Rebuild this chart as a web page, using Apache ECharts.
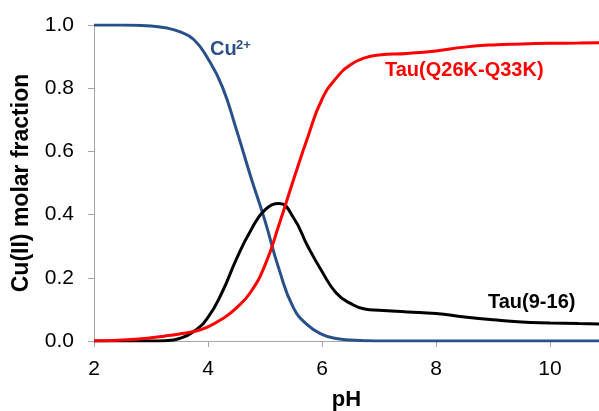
<!DOCTYPE html>
<html>
<head>
<meta charset="utf-8">
<script src="https://cdn.jsdelivr.net/npm/echarts@6/dist/echarts.min.js"></script>
<style>
  html, body { margin: 0; padding: 0; background: #ffffff; }
  #main { width: 599px; height: 411px; }
</style>
</head>
<body>
<div id="main"></div>
<script>
// pH points where the curves were read
var ph = [2, 2.5, 3, 3.25, 3.5, 3.75, 4, 4.25, 4.5, 4.75, 5, 5.25, 5.5, 5.75, 6, 6.25, 6.5, 6.75, 7, 7.5, 8, 8.5, 9, 9.5, 10, 10.5, 10.86];
// Cu2+ free
var cuFree = [1.0, 1.0, 0.997, 0.991, 0.979, 0.954, 0.893, 0.805, 0.668, 0.52, 0.38, 0.225, 0.105, 0.05, 0.021, 0.008, 0.003, 0.001, 0, 0, 0, 0, 0, 0, 0, 0, 0];
// Tau(Q26K-Q33K)
var tauQK = [0, 0.003, 0.01, 0.016, 0.022, 0.03, 0.045, 0.07, 0.105, 0.155, 0.24, 0.37, 0.51, 0.645, 0.765, 0.832, 0.874, 0.896, 0.905, 0.91, 0.918, 0.93, 0.937, 0.94, 0.942, 0.943, 0.944];
// Tau(9-16)
var tau916 = [0, 0, 0, 0.001, 0.008, 0.03, 0.075, 0.155, 0.26, 0.35, 0.415, 0.435, 0.39, 0.3, 0.22, 0.152, 0.119, 0.101, 0.097, 0.092, 0.087, 0.076, 0.067, 0.06, 0.057, 0.055, 0.054];

function pairs(ys) {
  return ph.map(function (x, i) { return [x, ys[i]]; });
}

var font = "'Liberation Sans', Arial, sans-serif";
var myChart = echarts.init(document.getElementById("main"));

var option = {
  animation: false,
  backgroundColor: "#ffffff",
  grid: { left: 94, right: 0, top: 25, bottom: 70, outerBoundsMode: "none", containLabel: false },
  xAxis: {
    type: "value",
    min: 2,
    max: 10.86,
    interval: 2,
    name: "pH",
    nameLocation: "middle",
    nameGap: 48,
    nameTextStyle: { color: "#000", fontSize: 22, fontWeight: "bold", fontFamily: font },
    axisLine: { lineStyle: { color: "#a6a6a6", width: 1 } },
    axisTick: { length: 6, lineStyle: { color: "#a6a6a6" } },
    axisLabel: { color: "#000", fontSize: 21, fontFamily: font, margin: 18, showMaxLabel: false },
    splitLine: { show: false }
  },
  yAxis: {
    type: "value",
    min: 0,
    max: 1,
    interval: 0.2,
    name: "Cu(II) molar fraction",
    nameLocation: "middle",
    nameGap: 61,
    nameTextStyle: { color: "#000", fontSize: 23, fontWeight: "bold", fontFamily: font },
    axisLine: { show: true, lineStyle: { color: "#a6a6a6", width: 1 } },
    axisTick: { show: true, length: 6, lineStyle: { color: "#a6a6a6" } },
    axisLabel: {
      color: "#000", fontSize: 21, fontFamily: font, margin: 20,
      formatter: function (v) { return v.toFixed(1); }
    },
    splitLine: { show: false }
  },
  series: [
    {
      name: "Cu2+", type: "line", smooth: true, showSymbol: false,
      lineStyle: { color: "#2a5089", width: 3 },
      data: pairs(cuFree)
    },
    {
      name: "Tau(9-16)", type: "line", smooth: true, showSymbol: false,
      lineStyle: { color: "#000000", width: 3 },
      data: pairs(tau916)
    },
    {
      name: "Tau(Q26K-Q33K)", type: "line", smooth: true, showSymbol: false,
      lineStyle: { color: "#ff0000", width: 3 },
      data: pairs(tauQK)
    }
  ],
  graphic: [
    { type: "text", left: 210, top: 39, z: 100,
      style: { text: "Cu", fill: "#2a5089", font: "bold 20px " + font } },
    { type: "text", left: 236, top: 39, z: 100,
      style: { text: "2+", fill: "#2a5089", font: "bold 13px " + font } },
    { type: "text", left: 385, top: 60, z: 100,
      style: { text: "Tau(Q26K-Q33K)", fill: "#ff0000", font: "bold 20px " + font } },
    { type: "text", left: 488, top: 292, z: 100,
      style: { text: "Tau(9-16)", fill: "#000000", font: "bold 20px " + font } }
  ]
};
myChart.setOption(option);
</script>
</body>
</html>
